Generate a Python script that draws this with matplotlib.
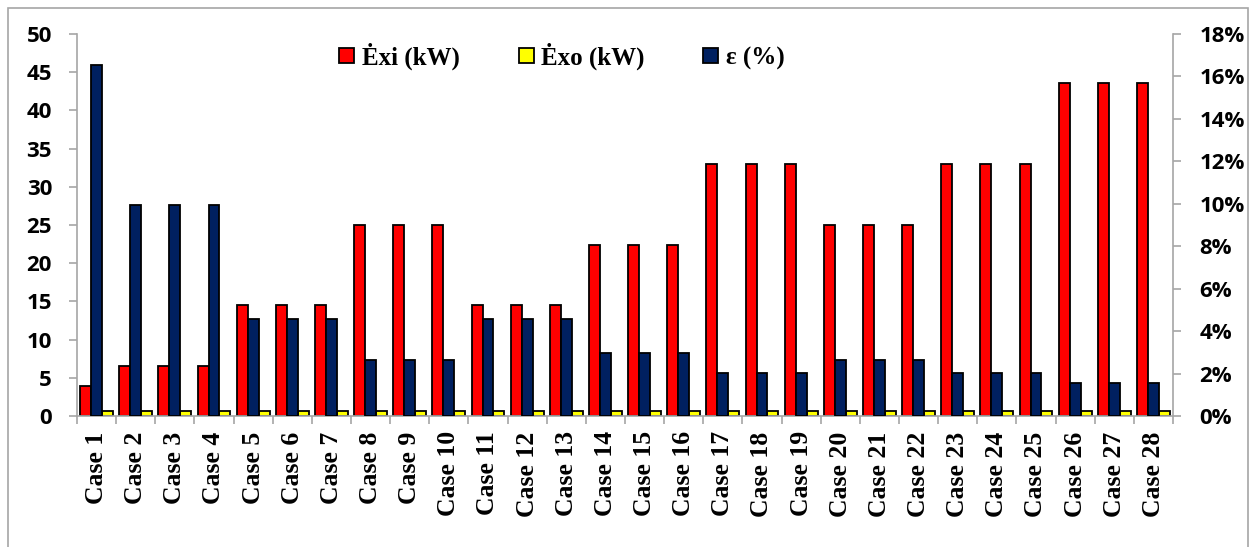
import numpy as np
import matplotlib
matplotlib.use("Agg")
import matplotlib.pyplot as plt
from matplotlib.patches import Patch, Rectangle
from matplotlib.ticker import FuncFormatter

# --- data ---
cases = [f"Case {i}" for i in range(1, 29)]
exi_kw = [3.9, 6.5, 6.5, 6.5, 14.5, 14.5, 14.5, 25.0, 25.0, 25.0,
          14.5, 14.5, 14.5, 22.4, 22.4, 22.4, 33.0, 33.0, 33.0, 25.0,
          25.0, 25.0, 33.0, 33.0, 33.0, 43.6, 43.6, 43.6]
exo_kw = [0.6] * 28
eff_pct = [16.55, 9.95, 9.95, 9.95, 4.55, 4.55, 4.55, 2.64, 2.64, 2.64,
           4.55, 4.55, 4.55, 2.98, 2.98, 2.98, 2.03, 2.03, 2.03, 2.64,
           2.64, 2.64, 2.03, 2.03, 2.03, 1.55, 1.55, 1.55]

# --- style ---
c_exi = "#FF0000"
c_exo = "#FFFF00"
c_eff = "#002060"
axis_grey = "#A6A6A6"
num_font = "Open Sans"
txt_font = "Liberation Serif"

W, H = 1253, 547
fig = plt.figure(figsize=(W / 100, H / 100), dpi=100)
ax = fig.add_axes([77 / W, 1 - 416 / H, (1173 - 77) / W, (416 - 34) / H])
ax2 = ax.twinx()

x = np.arange(len(cases))
bw = 0.28
ax.bar(x - bw, exi_kw, bw, color=c_exi, edgecolor="black", linewidth=1.3)
ax.bar(x + bw, exo_kw, bw, color=c_exo, edgecolor="black", linewidth=1.3)
ax2.bar(x, eff_pct, bw, color=c_eff, edgecolor="black", linewidth=1.3)

ax.set_xlim(-0.5, len(cases) - 0.5)
ax.set_ylim(0, 50)
ax2.set_ylim(0, 18)
ax.set_yticks(np.arange(0, 51, 5))
ax2.set_yticks(np.arange(0, 19, 2))
ax2.yaxis.set_major_formatter(FuncFormatter(lambda v, p: f"{v:.0f}%"))

# category labels at centres, tick marks on the boundaries
ax.set_xticks(x)
ax.set_xticklabels(cases, rotation=90, fontfamily=txt_font,
                   fontweight="bold", fontsize=18.5)
ax.set_xticks(np.arange(-0.5, len(cases), 1), minor=True)
ax.tick_params(axis="x", which="major", length=0, pad=11)
ax.tick_params(axis="x", which="minor", length=6, width=1.2, color=axis_grey)

for a in (ax, ax2):
    for s in a.spines.values():
        s.set_visible(False)
    for lab in a.get_yticklabels():
        lab.set_fontfamily(num_font)
        lab.set_fontweight("bold")
        lab.set_fontsize(16)
ax.spines["left"].set_visible(True)
ax.spines["bottom"].set_visible(True)
ax2.spines["right"].set_visible(True)
for s in (ax.spines["left"], ax.spines["bottom"], ax2.spines["right"]):
    s.set_color(axis_grey)
    s.set_linewidth(1.2)

ax.tick_params(axis="y", length=6, width=1.2, color=axis_grey, pad=12)
ax2.tick_params(axis="y", length=6, width=1.2, color=axis_grey, pad=13)

handles = [Patch(facecolor=c_exi, edgecolor="black", linewidth=1.3),
           Patch(facecolor=c_exo, edgecolor="black", linewidth=1.3),
           Patch(facecolor=c_eff, edgecolor="black", linewidth=1.3)]
labels = ["Ėxi (kW)", "Ėxo (kW)", "ε (%)"]
fig.legend(handles, labels, loc="center", bbox_to_anchor=(562 / W, 1 - 56 / H),
           ncol=3, frameon=False, handlelength=0.6, handleheight=0.6,
           handletextpad=0.3, columnspacing=2.35,
           prop={"family": txt_font, "weight": "bold", "size": 18})

# chart frame
fig.add_artist(Rectangle((8 / W, -0.05), (1248 - 8) / W, 1.05 - 8 / H,
                         transform=fig.transFigure, fill=False,
                         edgecolor=axis_grey, linewidth=1.2))

fig.savefig("out.png", dpi=100)
